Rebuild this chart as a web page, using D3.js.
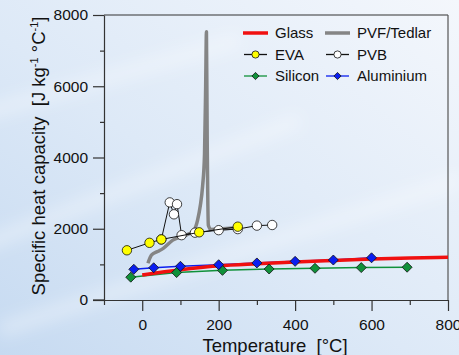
<!DOCTYPE html>
<html>
<head>
<meta charset="utf-8">
<script src="https://cdn.jsdelivr.net/npm/d3@7"></script>
<style>
  html, body { margin: 0; padding: 0; background: #e6eff9; }
  svg { display: block; font-family: "Liberation Sans", Arial, sans-serif; }
</style>
</head>
<body>
<svg id="chart" width="459" height="355"></svg>
<script>
// Specific heat capacity of PV module materials vs temperature
const glassT   = [0, 100, 200, 300, 400, 500, 600, 700, 800];
const glassCp  = [700, 850, 960, 1020, 1070, 1110, 1150, 1180, 1200];

const pvfT  = [15, 24, 40, 55, 80, 115, 135, 145, 152, 158, 163, 166, 168, 170, 173, 180, 210, 250];
const pvfCp = [1030, 1260, 1360, 1450, 1680, 1820, 1950, 2250, 2650, 3200, 4100, 6000, 7530, 4500, 2100, 1980, 2000, 2030];

const evaT  = [-40, 19, 50, 149, 250];
const evaCp = [1395, 1605, 1700, 1900, 2058];

const pvbT  = [50, 72, 83, 91, 103, 138, 200, 250, 300, 340];
const pvbCp = [1700, 2740, 2405, 2690, 1820, 1890, 1960, 1990, 2088, 2105];

const siT  = [-30, 90, 210, 332, 452, 573, 693];
const siCp = [640, 770, 832, 870, 890, 910, 920];

const alT  = [-22, 30, 100, 200, 300, 400, 500, 600];
const alCp = [862, 905, 946, 990, 1040, 1085, 1122, 1185];

const xTicks = [0, 200, 400, 600, 800];
const yTicks = [0, 2000, 4000, 6000, 8000];

const svg = d3.select("#chart");
const W = 459, H = 355;

// soft sky-blue backdrop
const defs = svg.append("defs");
const bg = defs.append("linearGradient").attr("id", "bg")
  .attr("x1", 0).attr("y1", 1).attr("x2", 1).attr("y2", 0);
bg.append("stop").attr("offset", 0).attr("stop-color", "#c6daf1");
bg.append("stop").attr("offset", 0.45).attr("stop-color", "#dde9f7");
bg.append("stop").attr("offset", 1).attr("stop-color", "#f4f7fc");
svg.append("rect").attr("width", W).attr("height", H).attr("fill", "url(#bg)");

const blur = defs.append("filter").attr("id", "soft").attr("x", "-20%").attr("y", "-50%")
  .attr("width", "140%").attr("height", "200%");
blur.append("feGaussianBlur").attr("stdDeviation", 8);
// faint light streaks across the backdrop
[[-40, 120, 240, 40], [-30, 250, 300, 120], [0, 330, 460, 180]].forEach(s => {
  svg.append("line").attr("x1", s[0]).attr("y1", s[1]).attr("x2", s[2]).attr("y2", s[3])
    .attr("stroke", "#ffffff").attr("stroke-opacity", 0.35).attr("stroke-width", 14)
    .attr("filter", "url(#soft)");
});

const m = { left: 104, right: 448, top: 15, bottom: 300 };
const x = d3.scaleLinear().domain([-100, 800]).range([m.left, m.right]);
const y = d3.scaleLinear().domain([0, 8000]).range([m.bottom, m.top]);

// frame
const axisColor = "#333";
svg.append("line").attr("x1", m.left).attr("x2", m.right).attr("y1", m.top).attr("y2", m.top)
  .attr("stroke", axisColor).attr("stroke-width", 1.2);
svg.append("line").attr("x1", m.right).attr("x2", m.right).attr("y1", m.top).attr("y2", m.bottom)
  .attr("stroke", "#555").attr("stroke-width", 1.2);

// y axis
const yAxis = d3.axisLeft(y).tickValues(d3.range(0, 8001, 1000))
  .tickSize(0).tickFormat(d => yTicks.includes(d) ? d : "");
const gy = svg.append("g").attr("transform", `translate(${m.left},0)`).call(yAxis);
gy.select(".domain").attr("stroke", axisColor).attr("stroke-width", 1.2);
gy.selectAll(".tick line").attr("stroke", axisColor).attr("stroke-width", 1.2)
  .attr("x2", d => yTicks.includes(d) ? -11 : -4);
gy.selectAll(".tick text").attr("x", -16).attr("font-size", 15.5).attr("fill", "#111")
  .attr("font-family", "Liberation Sans, Arial, sans-serif");

// x axis
const xAxis = d3.axisBottom(x).tickValues(d3.range(-100, 801, 100))
  .tickSize(0).tickFormat(d => xTicks.includes(d) ? d : "");
const gx = svg.append("g").attr("transform", `translate(0,${m.bottom})`).call(xAxis);
gx.select(".domain").attr("stroke", axisColor).attr("stroke-width", 1.2);
gx.selectAll(".tick line").attr("stroke", axisColor).attr("stroke-width", 1.2)
  .attr("y2", d => (xTicks.includes(d)) ? 11 : 5);
gx.selectAll(".tick text").attr("y", 19).attr("font-size", 15.5).attr("fill", "#111")
  .attr("font-family", "Liberation Sans, Arial, sans-serif");
// extend the y=0 tick across the corner
svg.append("line").attr("x1", m.left - 11).attr("x2", m.left).attr("y1", m.bottom).attr("y2", m.bottom)
  .attr("stroke", axisColor).attr("stroke-width", 1.2);

// axis titles
svg.append("text").attr("x", 275).attr("y", 352)
  .attr("text-anchor", "middle").attr("font-size", 18.5).attr("fill", "#111")
  .text("Temperature\u00a0\u00a0[°C]");
const yt = svg.append("text").attr("transform", `translate(45,156) rotate(-90)`)
  .attr("text-anchor", "middle").attr("font-size", 18.5).attr("fill", "#111");
yt.append("tspan").text("Specific heat capacity\u00a0\u00a0[J kg");
yt.append("tspan").attr("dy", -7).attr("font-size", 11).text("-1");
yt.append("tspan").attr("dy", 7).text(" °C");
yt.append("tspan").attr("dy", -7).attr("font-size", 11).text("-1");
yt.append("tspan").attr("dy", 7).text("]");

const zip = (a, b) => a.map((t, i) => [t, b[i]]);
const line = d3.line().x(d => x(d[0])).y(d => y(d[1]));
const smooth = d3.line().x(d => x(d[0])).y(d => y(d[1])).curve(d3.curveMonotoneX);

const plot = svg.append("g");

// PVF/Tedlar curve
plot.append("path").datum(zip(pvfT, pvfCp)).attr("d", smooth)
  .attr("fill", "none").attr("stroke", "#858585").attr("stroke-width", 3.5)
  .attr("stroke-linejoin", "round");

// thin series lines
plot.append("path").datum(zip(siT, siCp)).attr("d", line)
  .attr("fill", "none").attr("stroke", "#10913a").attr("stroke-width", 1.5);
plot.append("path").datum(zip(alT, alCp)).attr("d", line)
  .attr("fill", "none").attr("stroke", "#0a1ef0").attr("stroke-width", 1.5);

// Glass
plot.append("path").datum(zip(glassT, glassCp)).attr("d", smooth)
  .attr("fill", "none").attr("stroke", "#f01010").attr("stroke-width", 3.5);

const diamondPath = r => `M0,${-r}L${r},0L0,${r}L${-r},0Z`;
function diamonds(T, C, color) {
  plot.append("g").selectAll("path").data(zip(T, C)).join("path")
    .attr("d", diamondPath(5))
    .attr("transform", d => `translate(${x(d[0])},${y(d[1])})`)
    .attr("fill", color).attr("stroke", "#111").attr("stroke-width", 0.8);
}
diamonds(siT, siCp, "#10913a");
diamonds(alT, alCp, "#0a1ef0");

function circles(T, C, color) {
  plot.append("path").datum(zip(T, C)).attr("d", line)
    .attr("fill", "none").attr("stroke", "#111").attr("stroke-width", 1);
  plot.append("g").selectAll("circle").data(zip(T, C)).join("circle")
    .attr("cx", d => x(d[0])).attr("cy", d => y(d[1])).attr("r", 4.7)
    .attr("fill", color).attr("stroke", "#111").attr("stroke-width", 0.8);
}
circles(pvbT, pvbCp, "#ffffff");
circles(evaT, evaCp, "#ffff00");

// legend
const lg = svg.append("g").attr("font-size", 15).attr("fill", "#111");
const items = [
  { name: "Glass", col: 0, row: 0, kind: "thick", color: "#f01010" },
  { name: "PVF/Tedlar", col: 1, row: 0, kind: "thick", color: "#858585" },
  { name: "EVA", col: 0, row: 1, kind: "circle", color: "#ffff00", stroke: "#111" },
  { name: "PVB", col: 1, row: 1, kind: "circle", color: "#ffffff", stroke: "#111" },
  { name: "Silicon", col: 0, row: 2, kind: "diamond", color: "#10913a", stroke: "#10913a" },
  { name: "Aluminium", col: 1, row: 2, kind: "diamond", color: "#0a1ef0", stroke: "#0a1ef0" }
];
items.forEach(it => {
  const x0 = 243 + it.col * 82, yy = 33 + it.row * 21.5;
  const g = lg.append("g");
  if (it.kind === "thick") {
    g.append("line").attr("x1", x0).attr("x2", x0 + 25).attr("y1", yy).attr("y2", yy)
      .attr("stroke", it.color).attr("stroke-width", 3.5);
  } else {
    g.append("line").attr("x1", x0 + 1).attr("x2", x0 + 24).attr("y1", yy).attr("y2", yy)
      .attr("stroke", it.stroke).attr("stroke-width", 1.3);
    if (it.kind === "circle") {
      g.append("circle").attr("cx", x0 + 12.5).attr("cy", yy).attr("r", 3.6)
        .attr("fill", it.color).attr("stroke", "#111").attr("stroke-width", 0.8);
    } else {
      g.append("path").attr("d", diamondPath(3.6))
        .attr("transform", `translate(${x0 + 12.5},${yy})`)
        .attr("fill", it.color).attr("stroke", "#111").attr("stroke-width", 0.8);
    }
  }
  g.append("text").attr("x", x0 + 32).attr("y", yy).attr("dy", "0.35em").text(it.name);
});
</script>
</body>
</html>
